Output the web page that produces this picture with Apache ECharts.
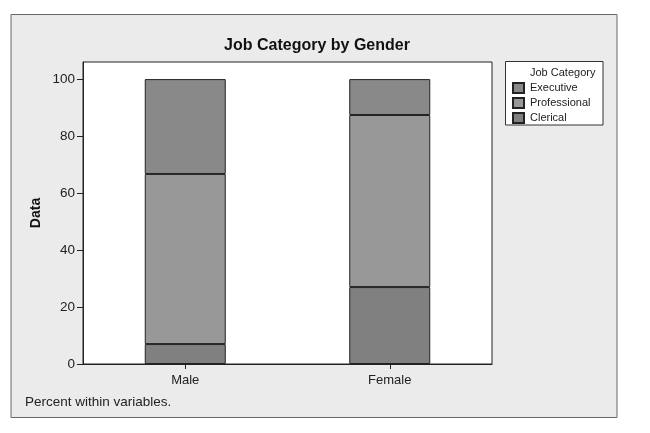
<!DOCTYPE html>
<html>
<head>
<meta charset="utf-8">
<script src="https://cdn.jsdelivr.net/npm/echarts@6/dist/echarts.min.js"></script>
<style>
  html, body { margin: 0; padding: 0; background: #fff; }
  #chart { width: 650px; height: 433px; }
</style>
</head>
<body>
<div id="chart"></div>
<script>
// 数据
//-----
var genders = ['Male', 'Female'];
var legendOrder = ['Executive', 'Professional', 'Clerical'];
// 从下往上堆叠
var clerical = [7.0, 27.0];
var professional = [59.7, 60.4];
var executive = [33.3, 12.6];
var yTicks = [0, 20, 40, 60, 80, 100];

var fontName = 'Liberation Sans';
var edge = '#222';

var myChart = echarts.init(document.getElementById('chart'));

var barStyle = function(color) {
  return { color: color, borderColor: edge, borderWidth: 1 };
};

var option = {
  backgroundColor: '#ffffff',
  animation: false,
  textStyle: { fontFamily: fontName },
  title: [
    {
      text: 'Job Category by Gender',
      left: 312,
      top: 33,
      textAlign: 'center',
      textStyle: { fontSize: 16, fontWeight: 'bold', color: '#111', fontFamily: fontName }
    },
    {
      text: 'Percent within variables.',
      left: 25,
      top: 395,
      padding: 0,
      textStyle: { fontSize: 13.5, fontWeight: 'normal', color: '#222', fontFamily: fontName }
    }
  ],
  graphic: {
    elements: [
      {
        // 外框背景
        type: 'rect',
        z: -10,
        silent: true,
        shape: { x: 11, y: 14.5, width: 606, height: 403 },
        style: { fill: '#ebebeb', stroke: '#666', lineWidth: 1 }
      },
      {
        // 图例框
        type: 'rect',
        z: -5,
        silent: true,
        shape: { x: 505.5, y: 61.5, width: 97.5, height: 63.5 },
        style: { fill: '#fff', stroke: '#333', lineWidth: 1 }
      },
      {
        type: 'text',
        z: 5,
        silent: true,
        x: 530,
        y: 72.5,
        style: {
          text: 'Job Category',
          fill: '#222',
          font: '11px "' + fontName + '"',
          verticalAlign: 'middle'
        }
      }
    ]
  },
  legend: {
    data: legendOrder,
    orient: 'vertical',
    left: 512,
    top: 82,
    padding: 0,
    icon: 'rect',
    itemWidth: 11,
    itemHeight: 10,
    itemGap: 3,
    selectedMode: false,
    textStyle: { fontSize: 11, color: '#222', fontFamily: fontName, padding: [0, 0, 0, 1] }
  },
  grid: {
    left: 83,
    top: 62,
    right: 158,
    bottom: 69,
    show: true,
    backgroundColor: '#fff',
    borderColor: edge,
    borderWidth: 1,
    outerBoundsMode: 'none'
  },
  xAxis: {
    type: 'category',
    data: genders,
    axisLine: { show: true, lineStyle: { color: edge, width: 1 } },
    axisTick: { show: true, alignWithLabel: true, length: 5, lineStyle: { color: edge } },
    axisLabel: { fontSize: 13, color: '#222', margin: 10 },
    splitLine: { show: false }
  },
  yAxis: {
    type: 'value',
    min: 0,
    max: 106,
    name: 'Data',
    nameLocation: 'middle',
    nameGap: 40,
    nameRotate: 90,
    nameMoveOverlap: false,
    nameTextStyle: { fontSize: 14, fontWeight: 'bold', color: '#111' },
    axisLine: { show: true, lineStyle: { color: edge, width: 1 } },
    axisTick: { show: true, length: 6, customValues: yTicks, lineStyle: { color: edge } },
    axisLabel: { fontSize: 13.5, color: '#222', margin: 8, customValues: yTicks },
    splitLine: { show: false }
  },
  series: [
    {
      name: 'Clerical',
      type: 'bar',
      stack: 'job',
      barWidth: 81,
      data: clerical,
      itemStyle: barStyle('#808080')
    },
    {
      name: 'Professional',
      type: 'bar',
      stack: 'job',
      barWidth: 81,
      data: professional,
      itemStyle: barStyle('#989898')
    },
    {
      name: 'Executive',
      type: 'bar',
      stack: 'job',
      barWidth: 81,
      data: executive,
      itemStyle: barStyle('#898989')
    }
  ]
};

myChart.setOption(option);
</script>
</body>
</html>
